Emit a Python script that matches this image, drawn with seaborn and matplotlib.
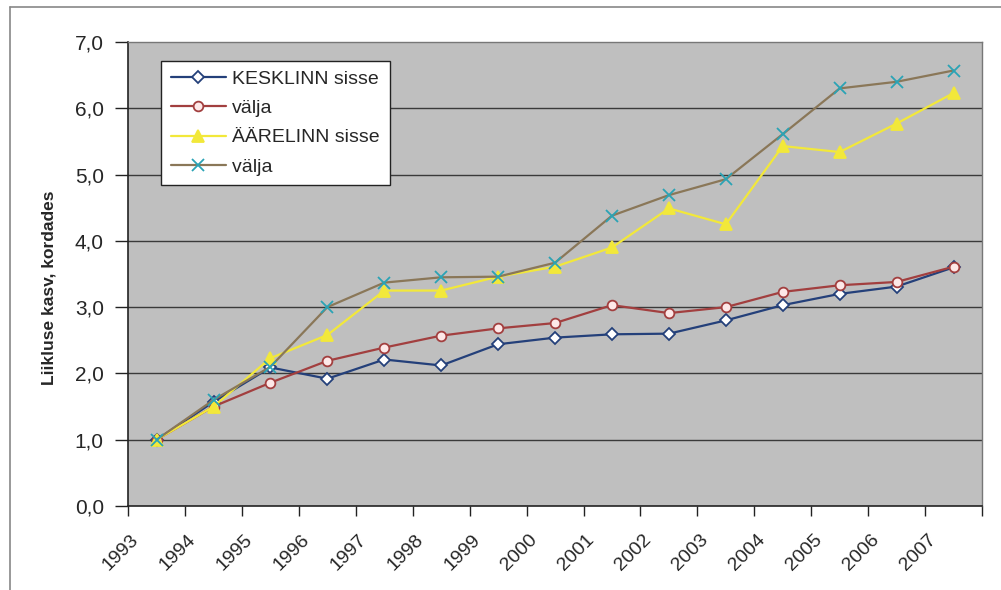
import pandas as pd
import matplotlib
matplotlib.use("Agg")
import matplotlib.pyplot as plt
from matplotlib.lines import Line2D
from matplotlib.ticker import FixedLocator, FuncFormatter
import seaborn as sns

# ---------------------------------------------------------
# DATA
# ---------------------------------------------------------
YEARS = list(range(1993, 2008))

KESKLINN_SISSE = [1.00, 1.57, 2.09, 1.92, 2.21, 2.12, 2.44, 2.54, 2.59, 2.60,
                  2.80, 3.03, 3.20, 3.31, 3.60]
KESKLINN_VALJA = [1.00, 1.50, 1.86, 2.19, 2.39, 2.57, 2.68, 2.76, 3.03, 2.91,
                  3.00, 3.23, 3.33, 3.38, 3.61]
AARELINN_SISSE = [1.00, 1.50, 2.23, 2.58, 3.25, 3.25, 3.46, 3.61, 3.90, 4.49,
                  4.25, 5.43, 5.34, 5.77, 6.23]
AARELINN_VALJA = [1.00, 1.60, 2.10, 3.00, 3.37, 3.45, 3.46, 3.67, 4.38, 4.69,
                  4.93, 5.61, 6.30, 6.40, 6.57]

SERIES_NAMES = ["KESKLINN sisse", "välja", "ÄÄRELINN sisse", "välja "]
Y_LABEL = "Liikluse kasv, kordades"
Y_TICKS = [0, 1, 2, 3, 4, 5, 6, 7]

# line colour, marker, marker face, marker edge, marker size
STYLES = [
    ("#24407a", "D", "white", "#24407a", 6),
    ("#a23f3f", "o", "#fde8e8", "#a23f3f", 7),
    ("#f2e83a", "^", "#f2e83a", "#f2e83a", 9),
    ("#8a7758", "x", "#2aa3b5", "#2aa3b5", 9),
]

sns.set_style("white")
plt.rcParams["font.family"] = ["Liberation Sans", "DejaVu Sans"]

# ---------------------------------------------------------
# PLOT
# ---------------------------------------------------------
fig = plt.figure(figsize=(10.01, 5.90), dpi=100)
ax = fig.add_axes([0.128, 0.1424, 0.853, 0.7864])
ax.set_facecolor("#bfbfbf")

all_values = [KESKLINN_SISSE, KESKLINN_VALJA, AARELINN_SISSE, AARELINN_VALJA]
for name, values, (col, mk, mfc, mec, ms) in zip(SERIES_NAMES, all_values, STYLES):
    df = pd.DataFrame({"year": YEARS, "value": values})
    sns.lineplot(data=df, x="year", y="value", ax=ax, color=col, linewidth=1.6,
                 marker=mk, markersize=ms, markerfacecolor=mfc,
                 markeredgecolor=mec, markeredgewidth=1.3, label=name,
                 zorder=3)

ax.set_xlim(YEARS[0] - 0.5, YEARS[-1] + 0.5)
ax.set_ylim(0, 7)

# horizontal gridlines
for yv in Y_TICKS[1:-1]:
    ax.axhline(yv, color="#3a3a3a", linewidth=1.0, zorder=1)

# y axis
ax.yaxis.set_major_locator(FixedLocator(Y_TICKS))
ax.yaxis.set_major_formatter(FuncFormatter(lambda v, p: f"{v:.1f}".replace(".", ",")))
ax.tick_params(axis="y", which="major", direction="out", length=9.5, width=1,
               color="#222222", labelsize=15, pad=8, left=True)
ax.set_ylabel(Y_LABEL, fontsize=12.5, fontweight="bold")
ax.yaxis.set_label_coords(-0.084, 0.47)

# x axis: rotated labels sit a little left of the category centre (Excel style),
# tick marks at the category boundaries
ax.set_xticks([y - 0.25 for y in YEARS])
ax.set_xticklabels([str(y) for y in YEARS], rotation=45, ha="right",
                   va="top", fontsize=14)
ax.set_xticks([y - 0.5 for y in YEARS] + [YEARS[-1] + 0.5], minor=True)
ax.tick_params(axis="x", which="major", length=0, pad=18)
ax.tick_params(axis="x", which="minor", direction="out", length=7, width=1,
               color="#222222", bottom=True)
ax.set_xlabel("")

for side in ["left", "bottom"]:
    ax.spines[side].set_color("#222222")
    ax.spines[side].set_linewidth(1.2)
for side in ["top", "right"]:
    ax.spines[side].set_color("#777777")
    ax.spines[side].set_linewidth(1.0)

leg = ax.legend(loc="upper left", bbox_to_anchor=(0.039, 0.96), fontsize=14,
                frameon=True, fancybox=False, borderpad=0.5,
                handlelength=2.8, labelspacing=0.6, handletextpad=0.35,
                borderaxespad=0)
leg.get_frame().set_edgecolor("#222222")
leg.get_frame().set_linewidth(1.0)
leg.get_frame().set_facecolor("white")
leg.get_frame().set_alpha(1)

# outer chart border (top and left edges visible in the reference)
fig.add_artist(Line2D([0.010, 1.0], [0.988, 0.988], color="#888888", lw=1.2))
fig.add_artist(Line2D([0.010, 0.010], [0.0, 0.988], color="#888888", lw=1.2))

fig.savefig("out.png", dpi=100)
